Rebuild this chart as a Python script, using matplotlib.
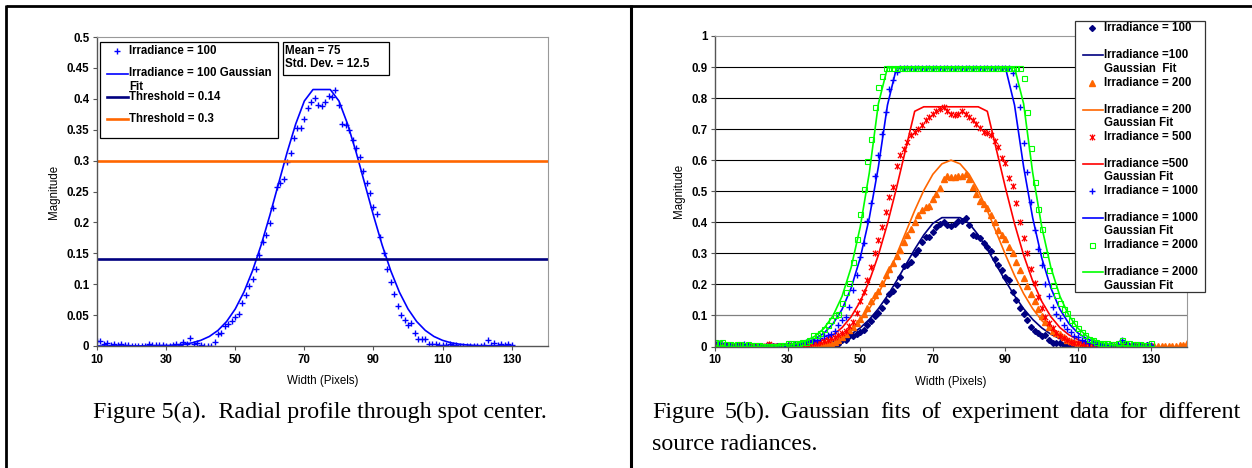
import numpy as np
import matplotlib.pyplot as plt
from matplotlib.patches import Rectangle
from matplotlib.path import Path
from matplotlib.ticker import FuncFormatter

plt.rcParams['font.family'] = ['Liberation Sans', 'DejaVu Sans']
plt.rcParams['font.weight'] = 'bold'

# ---------------- data ----------------
width_px = list(range(10, 131))          # x of measured points
width_px_200 = list(range(10, 141))      # irradiance 200 runs to 140
fit_x = list(np.arange(10, 130.1, 2.5))  # x of the fitted curves

irr_100 = [0.008, 0.008, 0.003, 0.005, 0.002, 0.003, 0.002, 0.004, 0.002, 0.001,
           0.000, 0.000, 0.000, 0.000, 0.000, 0.004, 0.001, 0.001, 0.001, 0.002,
           0.000, 0.000, 0.001, 0.003, 0.002, 0.006, 0.004, 0.013, 0.004, 0.005,
           0.001, 0.000, 0.000, 0.000, 0.007, 0.020, 0.021, 0.033, 0.035, 0.040,
           0.047, 0.052, 0.070, 0.082, 0.097, 0.108, 0.125, 0.147, 0.169, 0.180,
           0.199, 0.223, 0.258, 0.264, 0.271, 0.297, 0.312, 0.336, 0.352, 0.352,
           0.368, 0.385, 0.395, 0.401, 0.390, 0.389, 0.395, 0.405, 0.403, 0.415,
           0.390, 0.360, 0.357, 0.350, 0.333, 0.320, 0.306, 0.283, 0.263, 0.247,
           0.225, 0.214, 0.177, 0.151, 0.124, 0.104, 0.084, 0.064, 0.050, 0.042,
           0.034, 0.038, 0.021, 0.011, 0.012, 0.012, 0.004, 0.004, 0.003, 0.002,
           0.001, 0.002, 0.003, 0.001, 0.001, 0.000, 0.000, 0.000, 0.000, 0.000,
           0.000, 0.000, 0.001, 0.009, 0.002, 0.005, 0.001, 0.003, 0.002, 0.004,
           0.001]

irr_200 = [0.005, 0.004, 0.006, 0.003, 0.002, 0.003, 0.002, 0.001, 0.002, 0.001,
           0.000, 0.001, 0.000, 0.001, 0.002, 0.006, 0.002, 0.001, 0.001, 0.002,
           0.003, 0.002, 0.004, 0.005, 0.003, 0.006, 0.004, 0.007, 0.006, 0.008,
           0.010, 0.012, 0.010, 0.014, 0.022, 0.030, 0.040, 0.052, 0.062, 0.075,
           0.090, 0.105, 0.125, 0.145, 0.165, 0.180, 0.205, 0.230, 0.250, 0.270,
           0.290, 0.310, 0.335, 0.360, 0.380, 0.400, 0.425, 0.440, 0.450, 0.452,
           0.475, 0.490, 0.510, 0.540, 0.548, 0.545, 0.545, 0.548, 0.550, 0.555,
           0.540, 0.515, 0.490, 0.470, 0.460, 0.447, 0.425, 0.402, 0.375, 0.360,
           0.345, 0.320, 0.300, 0.272, 0.246, 0.220, 0.195, 0.170, 0.145, 0.120,
           0.098, 0.078, 0.062, 0.050, 0.045, 0.040, 0.030, 0.022, 0.018, 0.015,
           0.012, 0.010, 0.008, 0.006, 0.005, 0.004, 0.003, 0.003, 0.002, 0.002,
           0.002, 0.001, 0.002, 0.001, 0.002, 0.001, 0.002, 0.001, 0.002, 0.002,
           0.001, 0.002, 0.001, 0.002, 0.001, 0.002, 0.002, 0.003, 0.004, 0.006,
           0.010]

irr_500 = [0.004, 0.003, 0.005, 0.002, 0.003, 0.002, 0.003, 0.002, 0.002, 0.001,
           0.001, 0.001, 0.002, 0.001, 0.002, 0.008, 0.003, 0.002, 0.002, 0.003,
           0.004, 0.003, 0.005, 0.006, 0.006, 0.008, 0.008, 0.010, 0.012, 0.015,
           0.018, 0.022, 0.026, 0.030, 0.036, 0.042, 0.050, 0.065, 0.080, 0.107,
           0.145, 0.177, 0.214, 0.257, 0.300, 0.343, 0.386, 0.434, 0.483, 0.515,
           0.580, 0.617, 0.635, 0.660, 0.681, 0.692, 0.700, 0.713, 0.730, 0.740,
           0.750, 0.757, 0.765, 0.772, 0.757, 0.750, 0.745, 0.750, 0.757, 0.750,
           0.738, 0.728, 0.718, 0.703, 0.692, 0.686, 0.680, 0.662, 0.644, 0.607,
           0.590, 0.544, 0.517, 0.461, 0.402, 0.349, 0.300, 0.250, 0.204, 0.161,
           0.123, 0.096, 0.075, 0.058, 0.045, 0.035, 0.027, 0.020, 0.015, 0.012,
           0.010, 0.008, 0.006, 0.005, 0.004, 0.003, 0.003, 0.002, 0.002, 0.002,
           0.002, 0.002, 0.003, 0.004, 0.002, 0.003, 0.002, 0.002, 0.003, 0.002,
           0.002]

irr_1000 = [0.012, 0.010, 0.012, 0.006, 0.005, 0.004, 0.006, 0.005, 0.007, 0.004,
            0.003, 0.002, 0.002, 0.002, 0.002, 0.001, 0.002, 0.002, 0.002, 0.003,
            0.006, 0.007, 0.008, 0.009, 0.012, 0.013, 0.015, 0.018, 0.022, 0.028,
            0.033, 0.036, 0.040, 0.050, 0.068, 0.085, 0.096, 0.128, 0.182, 0.230,
            0.289, 0.334, 0.405, 0.461, 0.549, 0.617, 0.684, 0.756, 0.828, 0.858,
            0.885, 0.898, 0.898, 0.898, 0.898, 0.898, 0.898, 0.898, 0.898, 0.898,
            0.898, 0.898, 0.898, 0.898, 0.898, 0.898, 0.898, 0.898, 0.898, 0.898,
            0.898, 0.898, 0.898, 0.898, 0.898, 0.898, 0.898, 0.898, 0.898, 0.898,
            0.898, 0.898, 0.880, 0.839, 0.772, 0.656, 0.562, 0.465, 0.375, 0.313,
            0.262, 0.201, 0.164, 0.128, 0.105, 0.091, 0.070, 0.055, 0.048, 0.035,
            0.030, 0.022, 0.018, 0.012, 0.010, 0.008, 0.007, 0.006, 0.005, 0.005,
            0.006, 0.008, 0.020, 0.010, 0.006, 0.005, 0.005, 0.004, 0.005, 0.004,
            0.006]

irr_2000 = [0.015, 0.012, 0.015, 0.008, 0.007, 0.006, 0.008, 0.008, 0.006, 0.008,
            0.005, 0.004, 0.004, 0.003, 0.003, 0.003, 0.003, 0.003, 0.004, 0.005,
            0.012, 0.010, 0.010, 0.012, 0.015, 0.015, 0.020, 0.037, 0.037, 0.042,
            0.055, 0.069, 0.085, 0.101, 0.105, 0.140, 0.175, 0.206, 0.273, 0.345,
            0.427, 0.506, 0.598, 0.667, 0.770, 0.835, 0.871, 0.898, 0.898, 0.898,
            0.898, 0.898, 0.898, 0.898, 0.898, 0.898, 0.898, 0.898, 0.898, 0.898,
            0.898, 0.898, 0.898, 0.898, 0.898, 0.898, 0.898, 0.898, 0.898, 0.898,
            0.898, 0.898, 0.898, 0.898, 0.898, 0.898, 0.898, 0.898, 0.898, 0.898,
            0.898, 0.898, 0.898, 0.898, 0.898, 0.864, 0.756, 0.638, 0.531, 0.442,
            0.377, 0.298, 0.246, 0.198, 0.166, 0.139, 0.120, 0.107, 0.085, 0.075,
            0.059, 0.048, 0.037, 0.025, 0.021, 0.016, 0.012, 0.010, 0.010, 0.008,
            0.008, 0.010, 0.021, 0.012, 0.010, 0.008, 0.008, 0.008, 0.006, 0.006,
            0.010]

fit_100 = [0, 0, 0, 0, 0, 0.0001, 0.0002, 0.0004, 0.0007, 0.0015, 0.0028, 0.0051,
           0.0091, 0.0154, 0.0252, 0.0396, 0.0599, 0.0871, 0.1217, 0.1635, 0.2112,
           0.2622, 0.3131, 0.3593, 0.3965, 0.415, 0.415,
           0.415, 0.3965, 0.3593, 0.3131, 0.2622, 0.2112, 0.1635, 0.1217, 0.0871,
           0.0599, 0.0396, 0.0252, 0.0154, 0.0091, 0.0051, 0.0028, 0.0015, 0.0007,
           0.0004, 0.0002, 0.0001, 0]

fit_200 = [0, 0, 0, 0, 0, 0.0001, 0.0002, 0.0005, 0.0010, 0.0020, 0.0039, 0.0072,
           0.0127, 0.0215, 0.0352, 0.0554, 0.0838, 0.1218, 0.1702, 0.2287, 0.2954,
           0.3668, 0.4379, 0.5026, 0.5546, 0.5883, 0.600,
           0.5883, 0.5546, 0.5026, 0.4379, 0.3668, 0.2954, 0.2287, 0.1702, 0.1218,
           0.0838, 0.0554, 0.0352, 0.0215, 0.0127, 0.0072, 0.0039, 0.0020, 0.0010,
           0.0005, 0.0002, 0.0001, 0]

fit_500 = [0, 0, 0, 0, 0.0001, 0.0002, 0.0004, 0.0009, 0.0018, 0.0035, 0.0067, 0.0124,
           0.0219, 0.0373, 0.0609, 0.0959, 0.1450, 0.2107, 0.2945, 0.3956, 0.5110,
           0.6345, 0.7575, 0.772, 0.772, 0.772, 0.772,
           0.772, 0.772, 0.772, 0.7575, 0.6345, 0.5110, 0.3956, 0.2945, 0.2107,
           0.1450, 0.0959, 0.0609, 0.0373, 0.0219, 0.0124, 0.0067, 0.0035, 0.0018,
           0.0009, 0.0004, 0.0002, 0.0001]

fit_1000 = [0, 0, 0, 0.0001, 0.0001, 0.0003, 0.0008, 0.0017, 0.0035, 0.0069, 0.0132,
            0.0243, 0.0430, 0.0732, 0.1197, 0.1885, 0.2850, 0.4141, 0.5787, 0.7775,
            0.898, 0.898, 0.898, 0.898, 0.898, 0.898, 0.898,
            0.898, 0.898, 0.898, 0.898, 0.898, 0.898, 0.7775, 0.5787, 0.4141, 0.2850,
            0.1885, 0.1197, 0.0732, 0.0430, 0.0243, 0.0132, 0.0069, 0.0035, 0.0017,
            0.0008, 0.0003, 0.0001]

fit_2000 = [0, 0, 0, 0.0001, 0.0002, 0.0005, 0.0010, 0.0023, 0.0047, 0.0093, 0.0179,
            0.0329, 0.0582, 0.0989, 0.1618, 0.2547, 0.3850, 0.5595, 0.7819,
            0.898, 0.898, 0.898, 0.898, 0.898, 0.898, 0.898, 0.898,
            0.898, 0.898, 0.898, 0.898, 0.898, 0.898, 0.898, 0.7819, 0.5595, 0.3850,
            0.2547, 0.1618, 0.0989, 0.0582, 0.0329, 0.0179, 0.0093, 0.0047, 0.0023,
            0.0010, 0.0005, 0.0002]

thresholds = [0.14, 0.3]

NAVY, ORANGE, RED, BLUE, GREEN = '#000080', '#FF6600', '#FF0000', '#0000FF', '#00FF00'
FS = 8.3

star = Path([(-1, -1), (1, 1), (-1, 1), (1, -1), (0, -1.2), (0, 1.2)],
            [Path.MOVETO, Path.LINETO, Path.MOVETO, Path.LINETO, Path.MOVETO, Path.LINETO])

pts = {
    '100': dict(marker='D', ms=3, color=NAVY, mec=NAVY),
    '200': dict(marker='^', ms=4, color=ORANGE, mec=ORANGE),
    '500': dict(marker=star, ms=4.5, color=RED, mec=RED, mew=0.9),
    '1000': dict(marker='+', ms=5, color=BLUE, mew=1.0),
    '2000': dict(marker='s', ms=3.6, mfc='none', mec=GREEN, mew=0.8),
}

W, H = 1252, 468
fig = plt.figure(figsize=(W / 100, H / 100), dpi=100)


def rect(l, t, r, b):
    return [l / W, 1 - b / H, (r - l) / W, (b - t) / H]


ax1 = fig.add_axes(rect(97, 37, 548, 346))
ax2 = fig.add_axes(rect(715, 36, 1187, 346.5))
fmt = FuncFormatter(lambda v, p: f'{v:.2f}'.rstrip('0').rstrip('.'))

# ---------------- left chart ----------------
ax1.plot(width_px, irr_100, ls='none', marker='+', ms=5, mew=1.0, color=BLUE)
ax1.plot(fit_x, fit_100, color=BLUE, lw=1.2)
ax1.axhline(thresholds[0], color=NAVY, lw=1.9)
ax1.axhline(thresholds[1], color=ORANGE, lw=1.9)
ax1.set_xlim(10, 140.5)
ax1.set_ylim(0, 0.5)
ax1.set_yticks(np.arange(0, 0.501, 0.05))
ax1.yaxis.set_label_coords(-0.082, 0.5)

# ---------------- right chart ----------------
for v in np.arange(0.2, 0.95, 0.1):
    ax2.axhline(v, color='black', lw=0.8, zorder=0.5)
ax2.axhline(0.1, color='#808080', lw=0.9, zorder=0.5)
ax2.plot(width_px, irr_100, ls='none', **pts['100'])
ax2.plot(fit_x, fit_100, color=NAVY, lw=1.2)
ax2.plot(width_px_200, irr_200, ls='none', **pts['200'])
ax2.plot(fit_x, fit_200, color=ORANGE, lw=1.2)
ax2.plot(width_px, irr_500, ls='none', **pts['500'])
ax2.plot(fit_x, fit_500, color=RED, lw=1.2)
ax2.plot(width_px, irr_1000, ls='none', **pts['1000'])
ax2.plot(fit_x, fit_1000, color=BLUE, lw=1.2)
ax2.plot(width_px, irr_2000, ls='none', **pts['2000'])
ax2.plot(fit_x, fit_2000, color=GREEN, lw=1.2)
ax2.set_xlim(10, 140)
ax2.set_ylim(0, 1)
ax2.set_yticks(np.arange(0, 1.01, 0.1))
ax2.yaxis.set_label_coords(-0.064, 0.5)

for ax in (ax1, ax2):
    ax.set_xticks(range(10, 131, 20))
    ax.yaxis.set_major_formatter(fmt)
    ax.tick_params(direction='out', length=3, width=0.8, color='#555555',
                   labelsize=FS, pad=2.5)
    ax.set_ylabel('Magnitude', fontsize=FS)
    ax.set_xlabel('Width (Pixels)', fontsize=FS)
    ax.xaxis.set_label_coords(0.5, -0.095)
    for s in ('left', 'bottom'):
        ax.spines[s].set_color('#555555')
        ax.spines[s].set_linewidth(1.0)
    for s in ('top', 'right'):
        ax.spines[s].set_color('#999999')
        ax.spines[s].set_linewidth(0.8)

# ---------------- overlay: frames, legends, captions ----------------
ov = fig.add_axes([0, 0, 1, 1], zorder=10)
ov.set_xlim(0, W)
ov.set_ylim(H, 0)
ov.axis('off')
ov.patch.set_alpha(0)

ov.plot([6, 1252], [6, 6], color='black', lw=2.0, solid_capstyle='butt')
ov.plot([6, 6], [5, 468], color='black', lw=2.0, solid_capstyle='butt')
ov.plot([630.5, 630.5], [5, 468], color='black', lw=2.2, solid_capstyle='butt')

lkw = dict(fontsize=FS, fontweight='bold', va='center', ha='left')

# left legend
ov.add_patch(Rectangle((100, 42), 178, 96, fc='white', ec='black', lw=0.9))
ov.plot([117], [51], ls='none', marker='+', ms=5, mew=1.0, color=BLUE)
ov.text(129, 51, 'Irradiance = 100', **lkw)
ov.plot([107, 128], [73.5, 73.5], color=BLUE, lw=1.2)
ov.text(129, 73.5, 'Irradiance = 100 Gaussian', **lkw)
ov.text(129, 87, 'Fit', **lkw)
ov.plot([107, 128], [97, 97], color=NAVY, lw=1.9)
ov.text(129, 97, 'Threshold = 0.14', **lkw)
ov.plot([107, 128], [119, 119], color=ORANGE, lw=1.9)
ov.text(129, 119, 'Threshold = 0.3', **lkw)

# mean / std box
ov.add_patch(Rectangle((283, 42), 106, 33, fc='white', ec='black', lw=0.9))
ov.text(285, 50.5, 'Mean = 75', **lkw)
ov.text(285, 64, 'Std. Dev. = 12.5', **lkw)

# right legend
ov.add_patch(Rectangle((1075, 21), 130, 271, fc='white', ec='#333333', lw=0.9))
entries = [('100', NAVY, 'Irradiance = 100', 'Irradiance =100', 'Gaussian  Fit'),
           ('200', ORANGE, 'Irradiance = 200', 'Irradiance = 200', 'Gaussian Fit'),
           ('500', RED, 'Irradiance = 500', 'Irradiance =500', 'Gaussian Fit'),
           ('1000', BLUE, 'Irradiance = 1000', 'Irradiance = 1000', 'Gaussian Fit'),
           ('2000', GREEN, 'Irradiance = 2000', 'Irradiance = 2000', 'Gaussian Fit')]
for i, (key, col, lab, fit1, fit2) in enumerate(entries):
    y = 28.3 + 54.2 * i
    ov.plot([1092], [y], ls='none', **pts[key])
    ov.text(1104.5, y, lab, **lkw)
    y2 = y + 27.1
    ov.plot([1083, 1103], [y2, y2], color=col, lw=1.2)
    ov.text(1104.5, y2, fit1, **lkw)
    ov.text(1104.5, y2 + 13.3, fit2, **lkw)

# captions
ckw = dict(fontsize=17.3, fontweight='normal', family=['Liberation Serif', 'DejaVu Serif'],
           va='baseline')
ov.text(319.5, 418, 'Figure 5(a).  Radial profile through spot center.', ha='center', **ckw)

words = 'Figure 5(b).  Gaussian fits of experiment data for different'.split()
texts = [ov.text(0, 418, w, ha='left', **ckw) for w in words]
fig.canvas.draw()
rend = fig.canvas.get_renderer()
widths = [t.get_window_extent(rend).width for t in texts]
gap = (1240 - 652 - sum(widths)) / (len(words) - 1)
xpos = 652
for t, wd in zip(texts, widths):
    t.set_x(xpos)
    xpos += wd + gap
ov.text(652, 450, 'source radiances.', ha='left', **ckw)

fig.savefig('out.png', dpi=100)
